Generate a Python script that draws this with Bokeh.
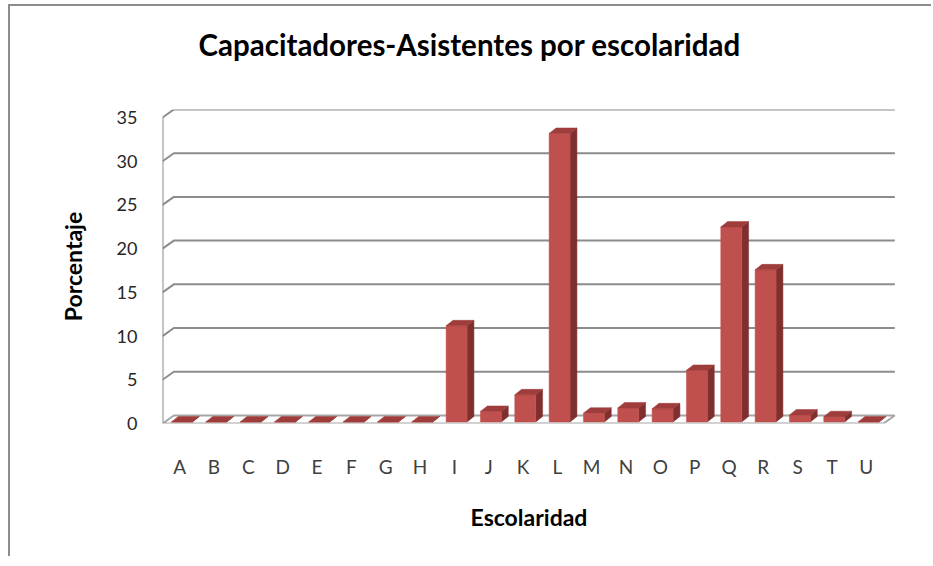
from bokeh.plotting import figure
from bokeh.models import FixedTicker, Title
from bokeh.embed import file_html
from bokeh.resources import INLINE

# ---- data ----
categories = ["A", "B", "C", "D", "E", "F", "G", "H", "I", "J", "K",
              "L", "M", "N", "O", "P", "Q", "R", "S", "T", "U"]
values = [0, 0, 0, 0, 0, 0, 0, 0, 11.0, 1.2, 3.1,
          33.0, 1.0, 1.6, 1.5, 5.9, 22.3, 17.4, 0.8, 0.6, 0]
y_ticks = [0, 5, 10, 15, 20, 25, 30, 35]

title_text = "Capacitadores-Asistentes por escolaridad"
x_title = "Escolaridad"
y_title = "Porcentaje"

# ---- 3D geometry (data units) ----
WALL_DX, WALL_DY = 0.33, 0.92      # depth of the floor/wall
F = 0.2                              # depth fraction of bar front face
BAR_W = 0.61
BD_X, BD_Y = 0.20, 0.62             # bar depth offsets
n = len(categories)
x0, x1 = -0.5, n - 0.5
ymax = y_ticks[-1]

FONT = "Lato"

p = figure(width=921, height=550, output_backend="svg", toolbar_location=None,
           x_range=(x0, x1 + WALL_DX + 0.02), y_range=(0, ymax + WALL_DY),
           frame_width=733, frame_height=314,
           min_border_left=152, min_border_right=36,
           min_border_top=103, min_border_bottom=133)
p.styles = {"border-left": "2px solid #8c8c8c", "border-top": "2px solid #8c8c8c",
            "margin-left": "8px", "margin-top": "4px"}
p.outline_line_color = None
p.background_fill_color = "white"
p.grid.visible = False

# spacer between frame and title, then the title itself
p.add_layout(Title(text=" ", text_font_size="21.5px", standoff=0), "above")
p.add_layout(Title(text=title_text, text_font=FONT, text_font_size="29.5px",
                   text_font_style="bold", text_color="black", align="left",
                   vertical_align="top", offset=36, standoff=39), "above")

# axes
p.xaxis.ticker = FixedTicker(ticks=list(range(n)))
p.xaxis.major_label_overrides = {i: c for i, c in enumerate(categories)}
p.yaxis.ticker = FixedTicker(ticks=y_ticks)
for ax in (p.xaxis, p.yaxis):
    ax.axis_line_color = None
    ax.major_tick_line_color = None
    ax.minor_tick_line_color = None
    ax.major_tick_out = 0
    ax.major_label_text_font = FONT
    ax.major_label_text_color = "#262626"
    ax.axis_label_text_font = FONT
    ax.axis_label_text_font_size = "23px"
    ax.axis_label_text_font_style = "bold"
    ax.axis_label_text_color = "black"
p.xaxis.major_label_text_font_size = "19px"
p.xaxis.major_label_text_color = "#404040"
p.yaxis.major_label_text_font_size = "18px"
p.xaxis.axis_label = x_title
p.yaxis.axis_label = y_title
p.xaxis.major_label_standoff = 31
p.xaxis.axis_label_standoff = 22
p.yaxis.major_label_standoff = 25
p.yaxis.axis_label_standoff = 27

# floor
p.patch([x0, x1, x1 + WALL_DX, x0 + WALL_DX], [0, 0, WALL_DY, WALL_DY],
        fill_color="white", line_color="#a6a6a6", line_width=2)

# gridlines on the left wall and back wall
for v in y_ticks[1:]:
    p.line([x0, x0 + WALL_DX, x1 + WALL_DX], [v, v + WALL_DY, v + WALL_DY],
           line_color="#8c8c8c", line_width=2)
# front-left vertical
p.line([x0, x0], [0, ymax], line_color="#8c8c8c", line_width=2)

# bars
fl, fr, fb, ft = [], [], [], []
side_x, side_y, top_x, top_y = [], [], [], []
for i, v in enumerate(values):
    l = i - BAR_W / 2 + F * WALL_DX
    r = i + BAR_W / 2 + F * WALL_DX
    b = F * WALL_DY
    t = b + v
    fl.append(l); fr.append(r); fb.append(b); ft.append(t)
    side_x.append([r, r + BD_X, r + BD_X, r])
    side_y.append([b, b + BD_Y, t + BD_Y, t])
    top_x.append([l, r, r + BD_X, l + BD_X])
    top_y.append([t, t, t + BD_Y, t + BD_Y])

p.patches(side_x, side_y, fill_color="#7f2f2d", line_color="#7f2f2d", line_width=0.5)
p.quad(left=fl, right=fr, bottom=fb, top=ft, fill_color="#c0504d",
       line_color="#c0504d", line_width=0.5)
p.patches(top_x, top_y, fill_color="#9e3d3b", line_color="#9e3d3b", line_width=0.5)

open("out.html", "w").write(file_html(p, INLINE))
